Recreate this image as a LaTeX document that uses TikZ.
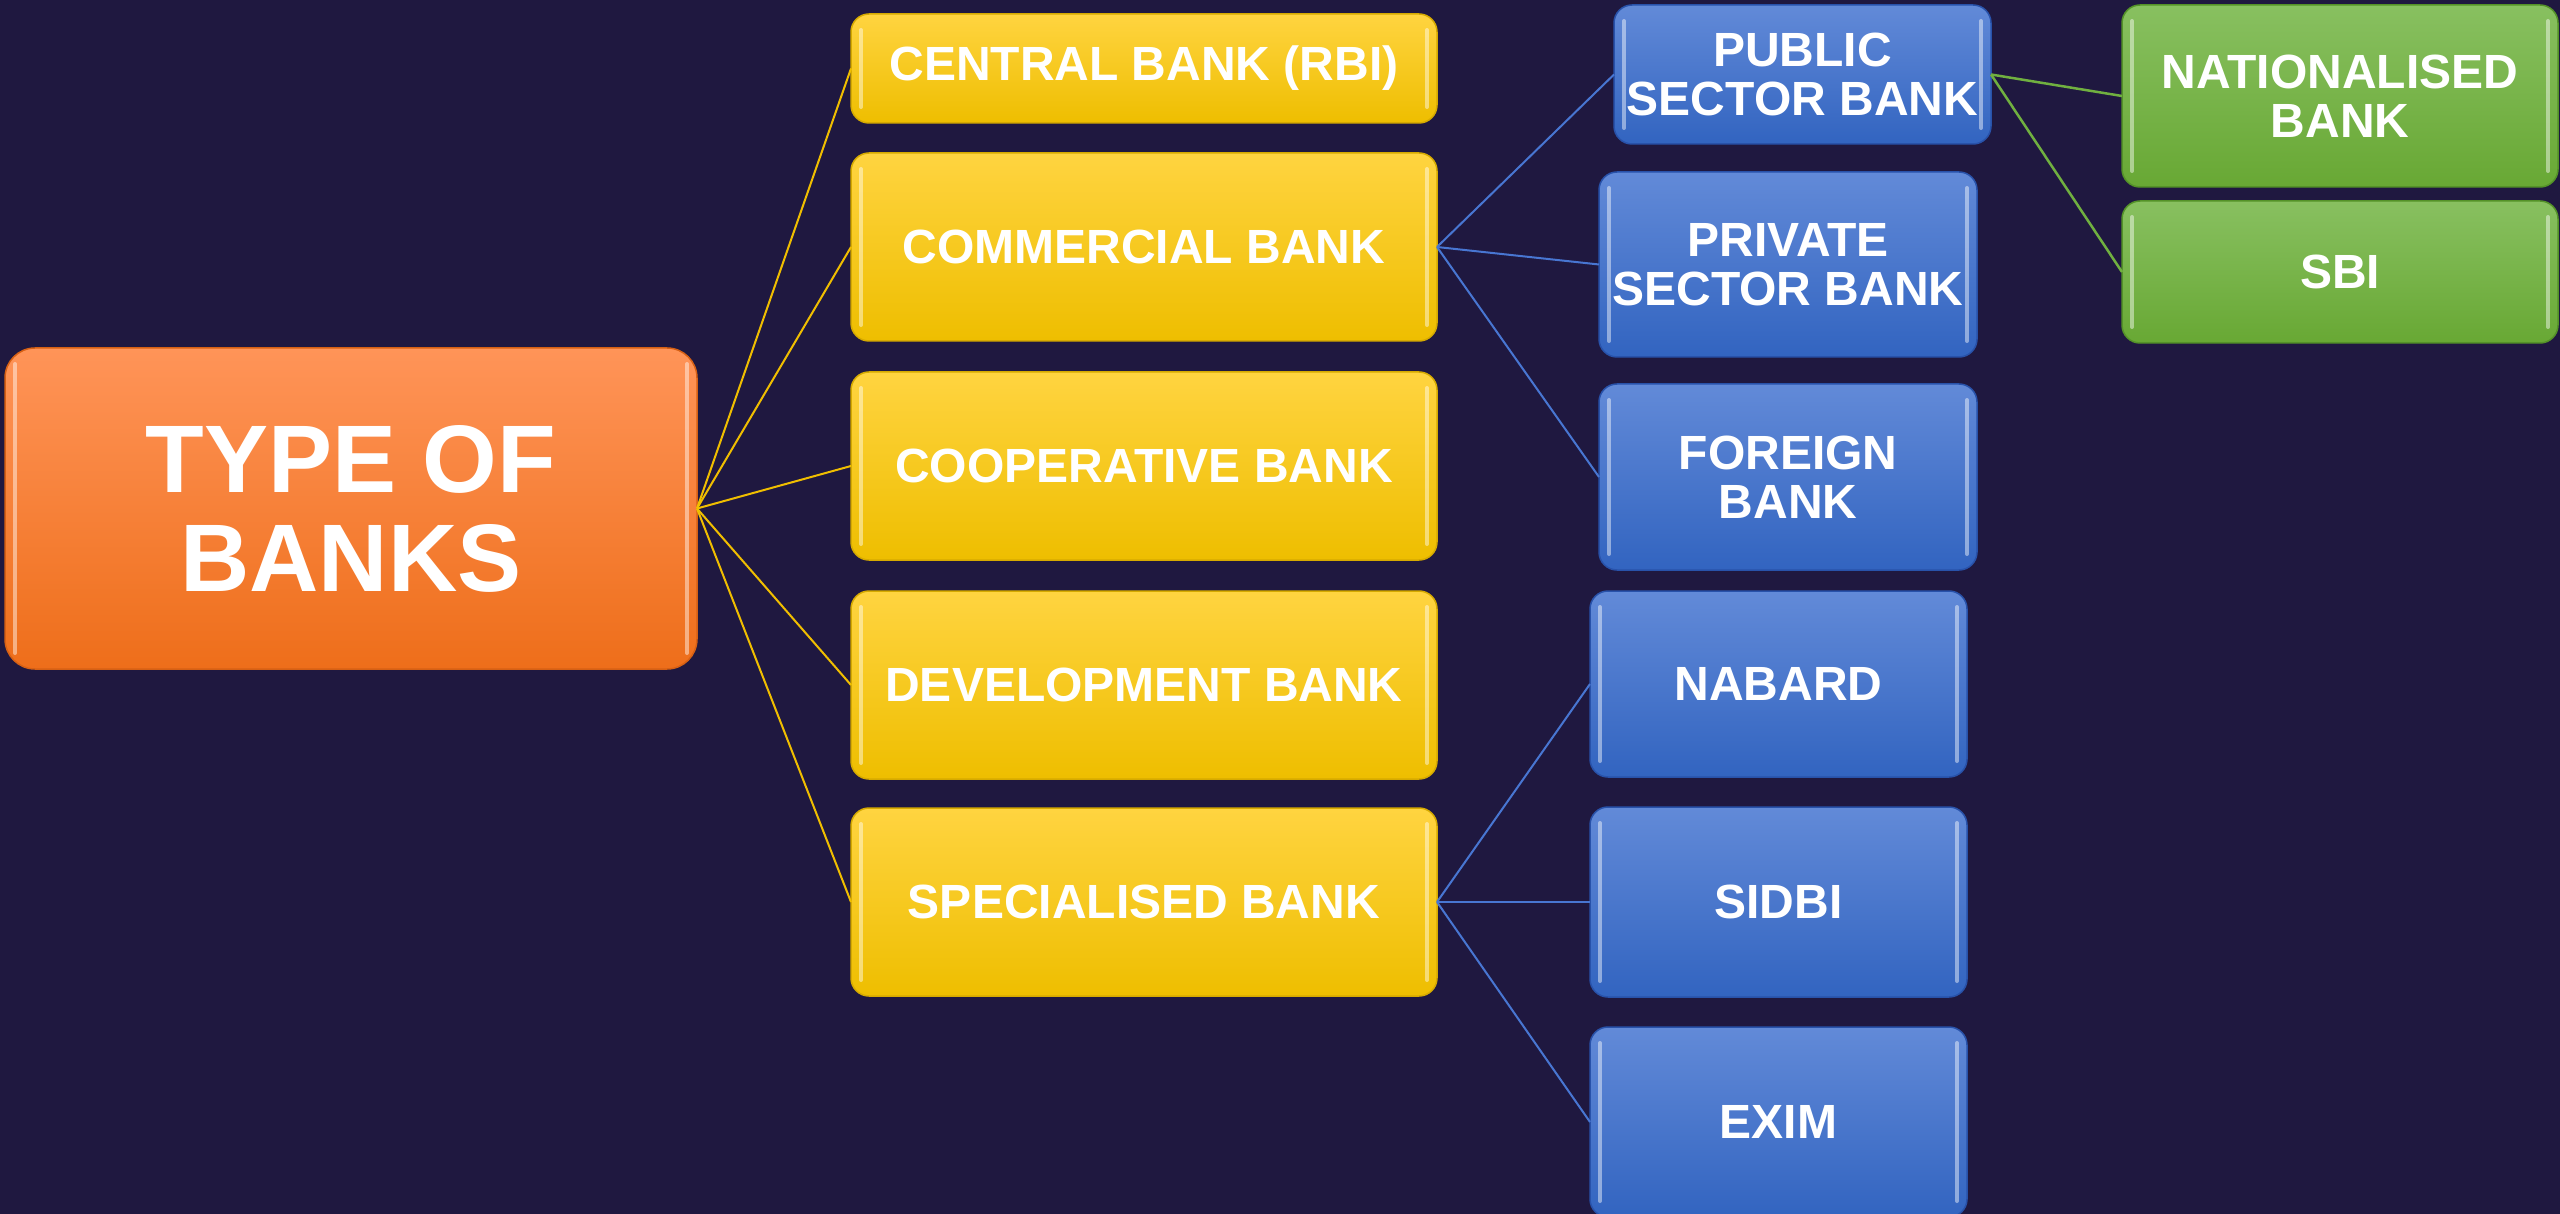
\documentclass[tikz,border=0pt]{standalone}
\usepackage{fontspec}
\setmainfont{Liberation Sans}
\definecolor{bgcol}{RGB}{31,24,64}
\definecolor{otop}{RGB}{255,148,88}
\definecolor{omid}{RGB}{252,128,40}
\definecolor{obot}{RGB}{238,110,26}
\definecolor{oedge}{RGB}{214,96,20}
\definecolor{ytop}{RGB}{255,212,64}
\definecolor{ymid}{RGB}{255,204,0}
\definecolor{ybot}{RGB}{238,190,0}
\definecolor{yedge}{RGB}{214,170,0}
\definecolor{btop}{RGB}{98,138,216}
\definecolor{bmid}{RGB}{70,118,210}
\definecolor{bbot}{RGB}{50,100,192}
\definecolor{bedge}{RGB}{40,82,170}
\definecolor{gtop}{RGB}{136,192,96}
\definecolor{gmid}{RGB}{114,180,64}
\definecolor{gbot}{RGB}{104,168,52}
\definecolor{gedge}{RGB}{84,146,40}
\definecolor{ylink}{RGB}{240,190,0}
\definecolor{blink}{RGB}{72,118,210}
\definecolor{glink}{RGB}{112,176,64}
\tikzset{
  gloss/.style={path picture={
    \draw[white, opacity=0.45, line width=4pt, line cap=round]
      ([xshift=10pt,yshift=-16pt]path picture bounding box.north west) --
      ([xshift=10pt,yshift=16pt]path picture bounding box.south west);
    \draw[white, opacity=0.45, line width=4pt, line cap=round]
      ([xshift=-10pt,yshift=-16pt]path picture bounding box.north east) --
      ([xshift=-10pt,yshift=16pt]path picture bounding box.south east);
  }},
  box/.style={rounded corners=18pt, inner sep=0pt, outer sep=0pt, align=center,
    text=white, font=\fontsize{48}{49.5}\selectfont\bfseries, line width=1.5pt, gloss},
  rootbox/.style={box, rounded corners=30pt, top color=otop, middle color=omid,
    bottom color=obot, draw=oedge, font=\fontsize{96}{99}\selectfont\bfseries},
  ybox/.style={box, top color=ytop, middle color=ymid, bottom color=ybot, draw=yedge,
    minimum width=586pt},
  bbox/.style={box, top color=btop, middle color=bmid, bottom color=bbot, draw=bedge},
  gbox/.style={box, top color=gtop, middle color=gmid, bottom color=gbot, draw=gedge,
    minimum width=436pt},
  ylinkst/.style={draw=ylink, line width=2pt},
  blinkst/.style={draw=blink, line width=2pt},
  glinkst/.style={draw=glink, line width=2.5pt}
}
\begin{document}
\begin{tikzpicture}[x=1pt, y=-1pt]
\useasboundingbox (0,0) rectangle (2560,1214);
\clip (0,0) rectangle (2560,1214);
\fill[bgcol] (0,0) rectangle (2560,1214);

% root
\node[rootbox, minimum width=692pt, minimum height=321pt] (root) at (351,508.5) {TYPE OF\\BANKS};

% level 1
\node[ybox, minimum height=109pt] (central) at (1144,68.5) {CENTRAL BANK (RBI)};
\node[ybox, minimum height=188pt] (commercial) at (1144,247) {COMMERCIAL BANK};
\node[ybox, minimum height=188pt] (coop) at (1144,466) {COOPERATIVE BANK};
\node[ybox, minimum height=188pt] (devel) at (1144,685) {DEVELOPMENT BANK};
\node[ybox, minimum height=188pt] (special) at (1144,902) {SPECIALISED BANK};

% level 2
\node[bbox, minimum width=377pt, minimum height=139pt] (public) at (1802.5,74.5) {PUBLIC\\SECTOR BANK};
\node[bbox, minimum width=378pt, minimum height=185pt] (private) at (1788,264.5) {PRIVATE\\SECTOR BANK};
\node[bbox, minimum width=378pt, minimum height=186pt] (foreign) at (1788,477) {FOREIGN\\BANK};
\node[bbox, minimum width=377pt, minimum height=186pt] (nabard) at (1778.5,684) {NABARD};
\node[bbox, minimum width=377pt, minimum height=190pt] (sidbi) at (1778.5,902) {SIDBI};
\node[bbox, minimum width=377pt, minimum height=190pt] (exim) at (1778.5,1122) {EXIM};

% level 3
\node[gbox, minimum height=182pt] (national) at (2340,96) {NATIONALISED\\BANK};
\node[gbox, minimum height=142pt] (sbi) at (2340,272) {SBI};

% connectors
\foreach \t in {central,commercial,coop,devel,special}
  \draw[ylinkst] (root.east) -- (\t.west);
\foreach \t in {public,private,foreign}
  \draw[blinkst] (commercial.east) -- (\t.west);
\foreach \t in {nabard,sidbi,exim}
  \draw[blinkst] (special.east) -- (\t.west);
\foreach \t in {national,sbi}
  \draw[glinkst] (public.east) -- (\t.west);
\end{tikzpicture}
\end{document}
